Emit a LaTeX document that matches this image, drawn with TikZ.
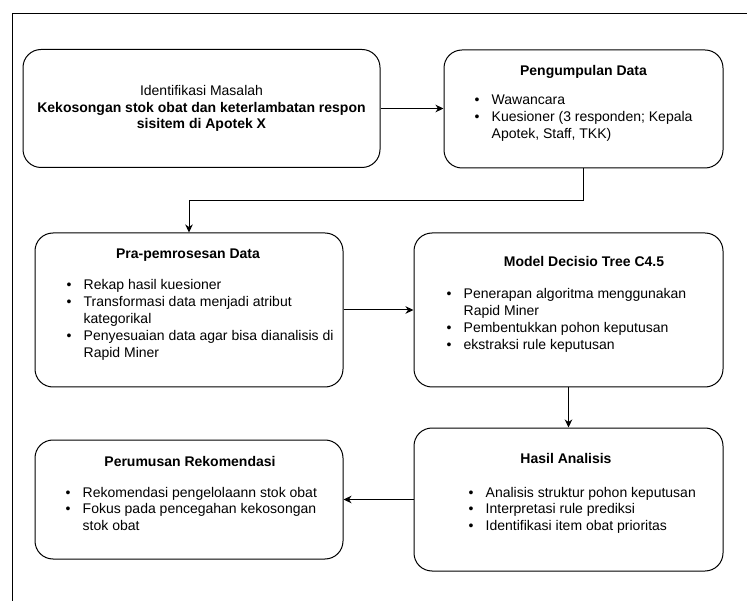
\documentclass[tikz,border=0pt]{standalone}
\usepackage{fontspec}
\setmainfont{Liberation Sans}
\usetikzlibrary{arrows.meta,calc}
\tikzset{
  box/.style={draw=black, line width=1pt, rounded corners=18pt, fill=white, inner sep=0pt},
  ttl/.style={font=\fontsize{14}{16.8}\selectfont\bfseries, anchor=base, inner sep=0pt},
  lst/.style={font=\fontsize{14}{16.8}\selectfont, anchor=base west, inner sep=0pt},
  arr/.style={draw=black, line width=1pt, -{Stealth[length=8pt,width=7.5pt,inset=2.5pt]}},
  frame/.style={draw=black, line width=1pt},
}
\newcommand{\itm}[1]{\makebox[17pt][l]{\textbullet}#1}
\newcommand{\cnt}{\hspace*{17pt}}
\newcommand{\lstbox}[1]{\parbox[t]{400pt}{\raggedright #1}}
\begin{document}
\begin{tikzpicture}[x=1pt,y=-1pt]
\useasboundingbox (0,0) rectangle (747,601);
\fill[white] (0,0) rectangle (747,601);
\draw[frame] (12,602) -- (12,14) -- (748,14);

% boxes
\node[box, minimum width=357pt, minimum height=118pt, align=center,
      font=\fontsize{14}{16.8}\selectfont] (b1) at (201.5,108.5)
  {Identifikasi Masalah\\\textbf{Kekosongan stok obat dan keterlambatan respon}\\\textbf{sisitem di Apotek X}};
\node[box, minimum width=279pt, minimum height=118pt] (b2) at (583.5,109) {};
\node[box, minimum width=308pt, minimum height=154pt] (b3) at (189,310) {};
\node[box, minimum width=309pt, minimum height=154pt] (b4) at (568.5,310) {};
\node[box, minimum width=309pt, minimum height=143pt] (b6) at (568.5,499.5) {};
\node[box, minimum width=308pt, minimum height=119pt] (b5) at (189,499.5) {};

% box 2 text
\node[ttl] (t2) at (583.5,75.5) {Pengumpulan Data};
\node[lst] (l2) at (474.5,105) {\lstbox{\itm{Wawancara}\par
  \itm{Kuesioner (3 responden; Kepala}\\\cnt Apotek, Staff, TKK)}};

% box 3 text
\node[ttl] (t3) at (188,259) {Pra-pemrosesan Data};
\node[lst] (l3) at (66.5,290) {\lstbox{\itm{Rekap hasil kuesioner}\par
  \itm{Transformasi data menjadi atribut}\\\cnt kategorikal\par
  \itm{Penyesuaian data agar bisa dianalisis di}\\\cnt Rapid Miner}};

% box 4 text
\node[ttl] (t4) at (584,267) {Model Decisio Tree C4.5};
\node[lst] (l4) at (446.5,299) {\lstbox{\itm{Penerapan algoritma menggunakan}\\\cnt Rapid Miner\par
  \itm{Pembentukkan pohon keputusan}\par
  \itm{ekstraksi rule keputusan}}};

% box 6 text
\node[ttl] (t6) at (566,463) {Hasil Analisis};
\node[lst] (l6) at (468.5,497) {\lstbox{\itm{Analisis struktur pohon keputusan}\par
  \itm{Interpretasi rule prediksi}\par
  \itm{Identifikasi item obat prioritas}}};

% box 5 text
\node[ttl] (t5) at (190,466) {Perumusan Rekomendasi};
\node[lst] (l5) at (65.5,497) {\lstbox{\itm{Rekomendasi pengelolaann stok obat}\par
  \itm{Fokus pada pencegahan kekosongan}\\\cnt stok obat}};

% connectors
\draw[arr] (b1.east) -- (b1.east -| b2.west);
\draw[arr] (b2.south) -- ++(0,32.5) -| (b3.north);
\draw[arr] (b3.east) -- (b3.east -| b4.west);
\draw[arr] (b4.south) -- (b6.north);
\draw[arr] (b6.west) -- (b5.east);
\end{tikzpicture}
\end{document}
